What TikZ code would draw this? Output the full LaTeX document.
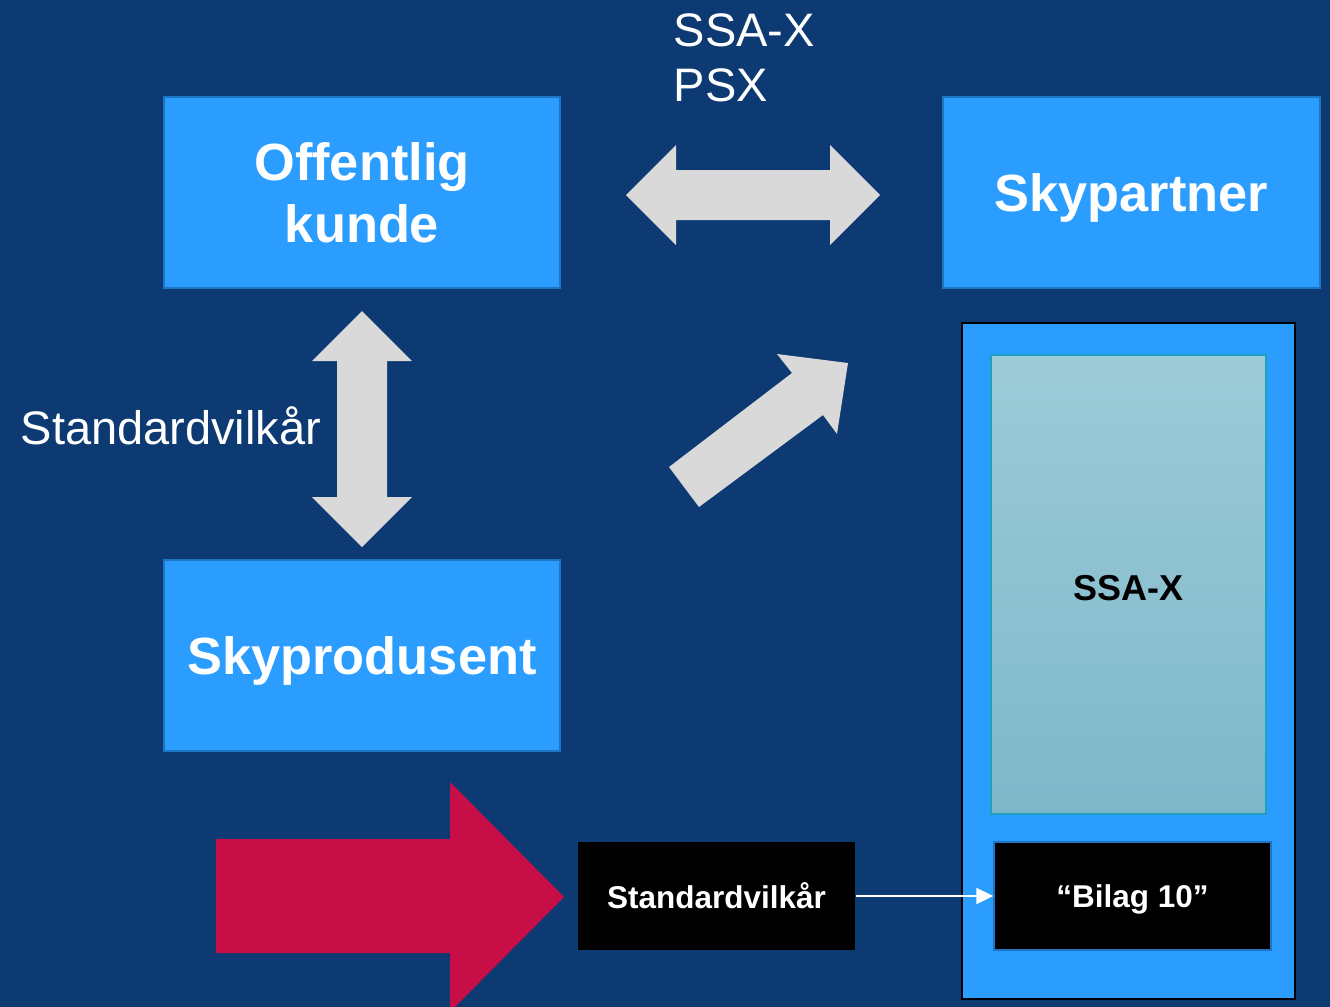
\documentclass[tikz,border=0pt]{standalone}
\usepackage{fontspec}
\setmainfont{Liberation Sans}
\usetikzlibrary{arrows.meta}
\definecolor{slidebg}{RGB}{13,58,114}
\definecolor{boxblue}{RGB}{42,157,255}
\definecolor{boxedge}{RGB}{28,118,196}
\definecolor{arrowgray}{RGB}{217,217,217}
\definecolor{pushred}{RGB}{200,14,70}
\definecolor{gradtop}{RGB}{157,203,216}
\definecolor{gradbot}{RGB}{125,184,202}
\definecolor{gradedge}{RGB}{30,160,190}
\tikzset{
  rolebox/.style={fill=boxblue, draw=boxedge, line width=0.5pt, text=white, align=center, inner sep=0pt,
    font=\bfseries\fontsize{14.9}{17.6}\selectfont},
  darkbox/.style={fill=black, text=white, inner sep=0pt, minimum width=2.77cm, minimum height=1.08cm,
    text depth=0pt, font=\bfseries\fontsize{8.96}{10.8}\selectfont},
  plainlabel/.style={text=white, inner sep=0pt, align=left, font=\fontsize{13.37}{15.6}\selectfont},
  blockarrow/.style={fill=arrowgray}
}
\begin{document}
\begin{tikzpicture}
        \useasboundingbox (0, 0) rectangle (13.30, -10.07);
        \clip (0, 0) rectangle (13.30, -10.07);
        \fill[slidebg] (0, 0) rectangle (13.30, -10.07);
        \node[rolebox, minimum width=3.96cm, minimum height=1.91cm] (kunde) at (3.62, -1.925) {Offentlig\\kunde};
        \node[rolebox, text depth=0pt, minimum width=3.77cm, minimum height=1.91cm] (partner) at (11.315, -1.925) {Skypartner};
        \node[rolebox, text depth=0pt, minimum width=3.96cm, minimum height=1.91cm] (produsent) at (3.62, -6.555) {Skyprodusent};
        \node[fill=boxblue, draw=black, line width=0.8pt, minimum width=3.33cm, minimum height=6.76cm] (avtale) at (11.285, -6.61) {};
        \node[top color=gradtop, bottom color=gradbot, draw=gradedge, line width=0.5pt, inner sep=0pt, text height=0.32cm,
          minimum width=2.75cm, minimum height=4.59cm, font=\bfseries\fontsize{10.24}{12}\selectfont] (ssax) at (11.285, -5.845) {SSA-X};
        \node[darkbox, draw=boxedge, line width=0.4pt] (bilag) at (11.325, -8.96) {``Bilag 10''};
        \node[darkbox] (vilkar) at (7.165, -8.96) {Standardvilkår};
        \draw[white, line width=0.6pt, -{Triangle[length=0.17cm, width=0.16cm]}] (vilkar.east) -- (bilag.west);
        \node[plainlabel, anchor=base west] (avtaler) at (6.73, -1.01) {SSA-X\\PSX};
        \node[plainlabel, anchor=base west] (vilkarlabel) at (0.20, -4.44) {Standardvilkår};
        \fill[blockarrow] (6.26, -1.95) -- (6.76, -1.45) -- (6.76, -1.70) -- (8.30, -1.70) -- (8.30, -1.45) -- (8.80, -1.95)
          -- (8.30, -2.45) -- (8.30, -2.20) -- (6.76, -2.20) -- (6.76, -2.45) -- cycle;
        \fill[blockarrow] (3.62, -3.11) -- (4.12, -3.61) -- (3.87, -3.61) -- (3.87, -4.97) -- (4.12, -4.97) -- (3.62, -5.47)
          -- (3.12, -4.97) -- (3.37, -4.97) -- (3.37, -3.61) -- (3.12, -3.61) -- cycle;
        \fill[blockarrow] (6.69, -4.67) -- (7.92, -3.73) -- (7.77, -3.54) -- (8.48, -3.63) -- (8.37, -4.34) -- (8.23, -4.15)
          -- (6.99, -5.07) -- cycle;
        \fill[pushred] (2.16, -8.39) -- (4.50, -8.39) -- (4.50, -7.82) -- (5.64, -8.97) -- (4.50, -10.12) -- (4.50, -9.53)
          -- (2.16, -9.53) -- cycle;
        \end{tikzpicture}
\end{document}
